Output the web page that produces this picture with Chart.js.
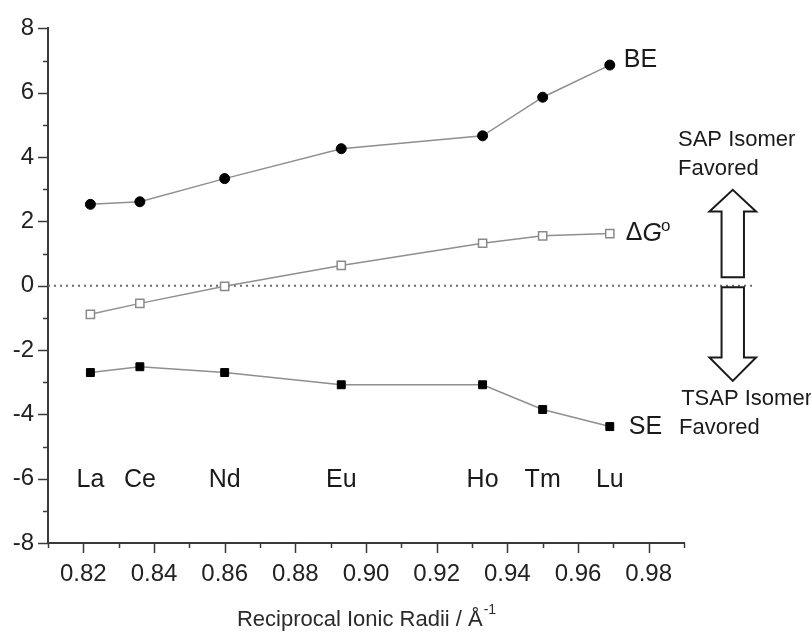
<!DOCTYPE html>
<html>
<head>
<meta charset="utf-8">
<script src="https://cdn.jsdelivr.net/npm/chart.js@4/dist/chart.umd.min.js"></script>
<style>
  html, body { margin: 0; padding: 0; background: #fff; }
  #wrap { width: 811px; height: 632px; position: relative; }
</style>
</head>
<body>
<div id="wrap"><canvas id="c"></canvas></div>
<script>
// Lanthanide series, reciprocal ionic radii (1/Å) and energies (kcal/mol)
const elements = ['La', 'Ce', 'Nd', 'Eu', 'Ho', 'Tm', 'Lu'];
const reciprocalRadii = [0.822, 0.836, 0.860, 0.893, 0.933, 0.950, 0.969];
const bindingEnergy = [2.53, 2.61, 3.33, 4.26, 4.66, 5.86, 6.86];
const deltaG = [-0.89, -0.55, -0.02, 0.63, 1.32, 1.55, 1.62];
const strainEnergy = [-2.70, -2.52, -2.70, -3.08, -3.08, -3.85, -4.38];

// Axis ticks (labelled ones; unlabelled minor ticks fall half-way between)
const xTickValues = [0.82, 0.84, 0.86, 0.88, 0.90, 0.92, 0.94, 0.96, 0.98];
const xTickLabels = ['0.82', '0.84', '0.86', '0.88', '0.90', '0.92', '0.94', '0.96', '0.98'];
const yTickValues = [-8, -6, -4, -2, 0, 2, 4, 6, 8];
const yTickLabels = ['-8', '-6', '-4', '-2', '0', '2', '4', '6', '8'];

const FONT = '"Liberation Sans", Arial, Helvetica, sans-serif';
const AXIS_COLOR = '#3a3a3a';
const LINE_COLOR = '#8f8f8f';

const pts = (ys) => ys.map((y, i) => ({ x: reciprocalRadii[i], y }));

function withMinor(major, half) {
  const all = [];
  major.forEach((v) => {
    all.push({ value: +(v - half).toFixed(4), minor: true });
    all.push({ value: v, minor: false });
  });
  all.push({ value: +(major[major.length - 1] + half).toFixed(4), minor: true });
  return all;
}

function labelFor(values, labels, v) {
  const i = values.findIndex(t => Math.abs(t - v) < 1e-6);
  return i >= 0 ? labels[i] : '';
}

const annotations = {
  id: 'annotations',
  afterDraw(chart) {
    const { ctx, scales: { x, y }, chartArea } = chart;
    ctx.save();

    // tick marks, long for labelled ticks and short for minor ones
    ctx.strokeStyle = AXIS_COLOR;
    ctx.lineWidth = 1.5;
    x.ticks.forEach(t => {
      const px = Math.round(x.getPixelForValue(t.value)) + 0.5;
      const len = t.minor ? 5 : 10;
      ctx.beginPath();
      ctx.moveTo(px, chartArea.bottom);
      ctx.lineTo(px, chartArea.bottom + len);
      ctx.stroke();
    });
    y.ticks.forEach(t => {
      const py = Math.round(y.getPixelForValue(t.value)) + 0.5;
      const len = t.minor ? 5 : 10;
      ctx.beginPath();
      ctx.moveTo(chartArea.left, py);
      ctx.lineTo(chartArea.left - len, py);
      ctx.stroke();
    });

    // element symbols along the lower part of the plot
    ctx.fillStyle = '#1a1a1a';
    ctx.font = '25px ' + FONT;
    ctx.textAlign = 'center';
    ctx.textBaseline = 'middle';
    elements.forEach((el, i) => {
      ctx.fillText(el, x.getPixelForValue(reciprocalRadii[i]), y.getPixelForValue(-6.05));
    });

    // series names at the end of each curve
    const last = reciprocalRadii.length - 1;
    const lx = x.getPixelForValue(reciprocalRadii[last]);
    ctx.textAlign = 'left';
    ctx.fillText('BE', lx + 14, y.getPixelForValue(bindingEnergy[last]) - 5);
    ctx.fillText('SE', lx + 19, y.getPixelForValue(strainEnergy[last]) + 1);
    // ΔG° with italic G and raised o
    let gx = lx + 16;
    const gy = y.getPixelForValue(deltaG[last]);
    ctx.font = '25px ' + FONT;
    ctx.fillText('Δ', gx, gy);
    gx += ctx.measureText('Δ').width;
    ctx.font = 'italic 25px ' + FONT;
    ctx.fillText('G', gx, gy);
    gx += ctx.measureText('G').width;
    ctx.font = '17px ' + FONT;
    ctx.fillText('o', gx - 1, gy - 7);

    // hollow arrows marking which isomer is favoured
    const ax = x.getPixelForValue(1.0038);
    const sw = 11.2, hw = 23.3;
    const arrow = (base, headBase, tip) => {
      const b = y.getPixelForValue(base), h = y.getPixelForValue(headBase), t = y.getPixelForValue(tip);
      ctx.beginPath();
      ctx.moveTo(ax - sw, b);
      ctx.lineTo(ax - sw, h);
      ctx.lineTo(ax - hw, h);
      ctx.lineTo(ax, t);
      ctx.lineTo(ax + hw, h);
      ctx.lineTo(ax + sw, h);
      ctx.lineTo(ax + sw, b);
      ctx.closePath();
      ctx.fillStyle = '#fff';
      ctx.fill();
      ctx.strokeStyle = '#1a1a1a';
      ctx.lineWidth = 2;
      ctx.lineJoin = 'miter';
      ctx.stroke();
    };
    arrow(0.26, 2.31, 2.98);
    arrow(-0.05, -2.23, -2.96);

    ctx.fillStyle = '#1a1a1a';
    ctx.font = '22px ' + FONT;
    ctx.textAlign = 'left';
    ctx.textBaseline = 'middle';
    const sx = x.getPixelForValue(0.9883);
    ctx.fillText('SAP Isomer', sx, y.getPixelForValue(4.52));
    ctx.fillText('Favored', sx, y.getPixelForValue(3.62));
    const tx = x.getPixelForValue(0.9892);
    ctx.fillText('TSAP Isomer', tx, y.getPixelForValue(-3.53));
    ctx.fillText('Favored', x.getPixelForValue(0.9886), y.getPixelForValue(-4.41));

    // x-axis title with superscript
    const title = 'Reciprocal Ionic Radii / Å';
    ctx.font = '22px ' + FONT;
    const tw = ctx.measureText(title).width;
    ctx.font = '14px ' + FONT;
    const sw2 = ctx.measureText('-1').width;
    const cx = (chartArea.left + chartArea.right) / 2;
    const startX = cx - (tw + sw2) / 2;
    const ty = 620;
    ctx.font = '22px ' + FONT;
    ctx.fillStyle = '#2a2a2a';
    ctx.fillText(title, startX, ty);
    ctx.font = '14px ' + FONT;
    ctx.fillText('-1', startX + tw + 1, ty - 10);

    ctx.restore();
  }
};

new Chart(document.getElementById('c'), {
  type: 'scatter',
  data: {
    datasets: [
      {
        label: 'zero',
        data: [{ x: 0.81, y: 0 }, { x: 1.0093, y: 0 }],
        showLine: true,
        borderColor: '#6a6a6a',
        borderWidth: 2,
        borderDash: [2, 4],
        pointRadius: 0,
        clip: false,
        order: 10
      },
      {
        label: 'BE',
        data: pts(bindingEnergy),
        showLine: true,
        borderColor: LINE_COLOR,
        borderWidth: 1.5,
        pointStyle: 'circle',
        pointRadius: 5,
        pointBackgroundColor: '#000',
        pointBorderColor: '#000',
        pointBorderWidth: 1
      },
      {
        label: 'ΔG',
        data: pts(deltaG),
        showLine: true,
        borderColor: LINE_COLOR,
        borderWidth: 1.5,
        pointStyle: 'rect',
        pointRadius: 5.8,
        pointBackgroundColor: '#fff',
        pointBorderColor: '#8a8a8a',
        pointBorderWidth: 1.5
      },
      {
        label: 'SE',
        data: pts(strainEnergy),
        showLine: true,
        borderColor: LINE_COLOR,
        borderWidth: 1.5,
        pointStyle: 'rect',
        pointRadius: 5.6,
        pointBackgroundColor: '#000',
        pointBorderColor: '#000',
        pointBorderWidth: 1
      }
    ]
  },
  options: {
    responsive: true,
    maintainAspectRatio: false,
    animation: false,
    events: [],
    layout: { padding: { top: 26, right: 127, bottom: 0, left: 0 } },
    plugins: { legend: { display: false }, tooltip: { enabled: false } },
    scales: {
      x: {
        type: 'linear',
        min: 0.81,
        max: 0.99,
        afterBuildTicks: s => { s.ticks = withMinor(xTickValues, 0.01); },
        afterFit: s => { s.height = 89; },
        grid: { display: false, drawTicks: false },
        border: { display: true, color: AXIS_COLOR, width: 2 },
        ticks: {
          autoSkip: false,
          maxRotation: 0,
          padding: 17,
          color: '#222',
          font: { family: FONT, size: 24 },
          callback: v => labelFor(xTickValues, xTickLabels, v)
        }
      },
      y: {
        type: 'linear',
        min: -8,
        max: 8,
        afterBuildTicks: s => { s.ticks = withMinor(yTickValues, 1).filter(t => t.value >= -8 && t.value <= 8); },
        afterFit: s => { s.width = 48; },
        grid: { display: false, drawTicks: false },
        border: { display: true, color: AXIS_COLOR, width: 2 },
        ticks: {
          autoSkip: false,
          padding: 14,
          color: '#222',
          font: { family: FONT, size: 24 },
          callback: v => labelFor(yTickValues, yTickLabels, v)
        }
      }
    }
  },
  plugins: [annotations]
});
</script>
</body>
</html>
